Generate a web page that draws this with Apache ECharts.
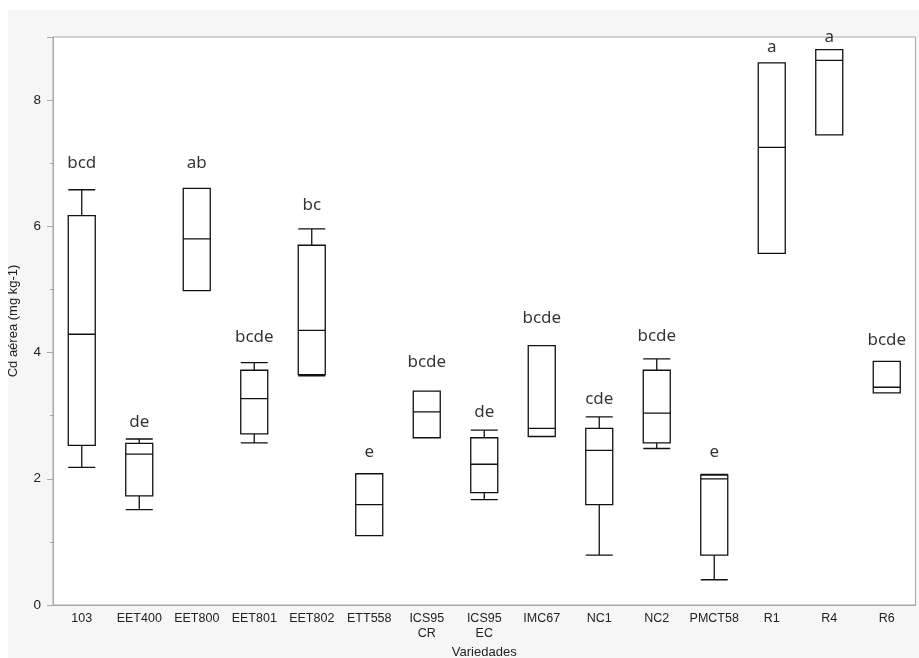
<!DOCTYPE html>
<html>
<head>
<meta charset="utf-8">
<script src="https://cdn.jsdelivr.net/npm/echarts@6/dist/echarts.min.js"></script>
<style>
  html, body { margin: 0; padding: 0; background: #ffffff; }
  #chart { width: 919px; height: 658px; }
</style>
</head>
<body>
<div id="chart"></div>
<script>
// variedades
const variedades = ["103", "EET400", "EET800", "EET801", "EET802", "ETT558", "ICS95\nCR", "ICS95\nEC", "IMC67", "NC1", "NC2", "PMCT58", "R1", "R4", "R6"];

// min, Q1, mediana, Q3, max (Cd aérea, mg kg-1)
const minimo  = [2.18, 1.51, 4.98, 2.57, 3.63, 1.10, 2.65, 1.67, 2.67, 0.79, 2.48, 0.40, 5.57, 7.45, 3.36];
const q1      = [2.53, 1.73, 4.98, 2.71, 3.65, 1.10, 2.65, 1.78, 2.67, 1.59, 2.57, 0.79, 5.57, 7.45, 3.36];
const mediana = [4.29, 2.39, 5.80, 3.27, 4.35, 1.59, 3.06, 2.23, 2.80, 2.45, 3.04, 2.00, 7.25, 8.63, 3.45];
const q3      = [6.17, 2.56, 6.60, 3.72, 5.70, 2.08, 3.39, 2.65, 4.11, 2.80, 3.72, 2.06, 8.59, 8.80, 3.86];
const maximo  = [6.58, 2.63, 6.60, 3.84, 5.96, 2.08, 3.39, 2.77, 4.11, 2.98, 3.90, 2.07, 8.59, 8.80, 3.86];

// letras do teste de médias e a altura onde aparecem
const letras  = ["bcd", "de", "ab", "bcde", "bc", "e", "bcde", "de", "bcde", "cde", "bcde", "e", "a", "a", "bcde"];
const letraY  = [7.00, 2.89, 7.00, 4.25, 6.34, 2.42, 3.85, 3.06, 4.54, 3.26, 4.26, 2.42, 8.84, 8.99, 4.19];

const caixas = variedades.map((v, i) => [minimo[i], q1[i], mediana[i], q3[i], maximo[i]]);
const rotulos = variedades.map((v, i) => ({ value: [v, letraY[i]], letra: letras[i] }));

const chart = echarts.init(document.getElementById("chart"));
const option = {
  animation: false,
  backgroundColor: "#ffffff",
  graphic: [
    {
      type: "rect",
      z: -10,
      shape: { x: 8, y: 10, width: 911, height: 648 },
      style: { fill: "#f6f6f6" },
      silent: true,
    },
  ],
  grid: {
    left: 53,
    top: 37,
    right: 3.5,
    bottom: 53,
    containLabel: false,
    outerBoundsMode: "none",
    show: true,
    backgroundColor: "#ffffff",
    borderColor: "#a8a8a8",
    borderWidth: 1,
  },
  xAxis: {
    type: "category",
    data: variedades,
    name: "Variedades",
    nameLocation: "middle",
    nameGap: 40,
    nameTextStyle: { fontFamily: "Liberation Sans", fontSize: 13, color: "#222" },
    axisLine: { lineStyle: { color: "#a8a8a8" } },
    axisTick: { show: false },
    axisLabel: {
      interval: 0,
      margin: 6,
      fontFamily: "Liberation Sans",
      fontSize: 12.5,
      color: "#222",
      lineHeight: 15,
    },
    splitLine: { show: false },
  },
  yAxis: {
    type: "value",
    min: 0,
    max: 9,
    interval: 2,
    name: "Cd aérea (mg kg-1)",
    nameLocation: "middle",
    nameGap: 33,
    nameTextStyle: { fontFamily: "Liberation Sans", fontSize: 13, color: "#222" },
    axisLine: { show: true, lineStyle: { color: "#a8a8a8" } },
    axisTick: { show: true, length: 6, lineStyle: { color: "#a8a8a8" } },
    minorTick: { show: true, splitNumber: 2, length: 3, lineStyle: { color: "#a8a8a8" } },
    axisLabel: {
      margin: 12,
      showMaxLabel: false,
      fontFamily: "Liberation Sans",
      fontSize: 13.5,
      color: "#222",
    },
    splitLine: { show: false },
  },
  series: [
    {
      type: "boxplot",
      data: caixas,
      boxWidth: [27, 27],
      itemStyle: { color: "#ffffff", borderColor: "#111111", borderWidth: 1.3 },
    },
    {
      type: "scatter",
      data: rotulos,
      symbolSize: 0,
      silent: true,
      label: {
        show: true,
        position: "inside",
        formatter: (p) => p.data.letra,
        fontFamily: "Noto Sans",
        fontSize: 17,
        color: "#000",
      },
    },
  ],
};
chart.setOption(option);
</script>
</body>
</html>
